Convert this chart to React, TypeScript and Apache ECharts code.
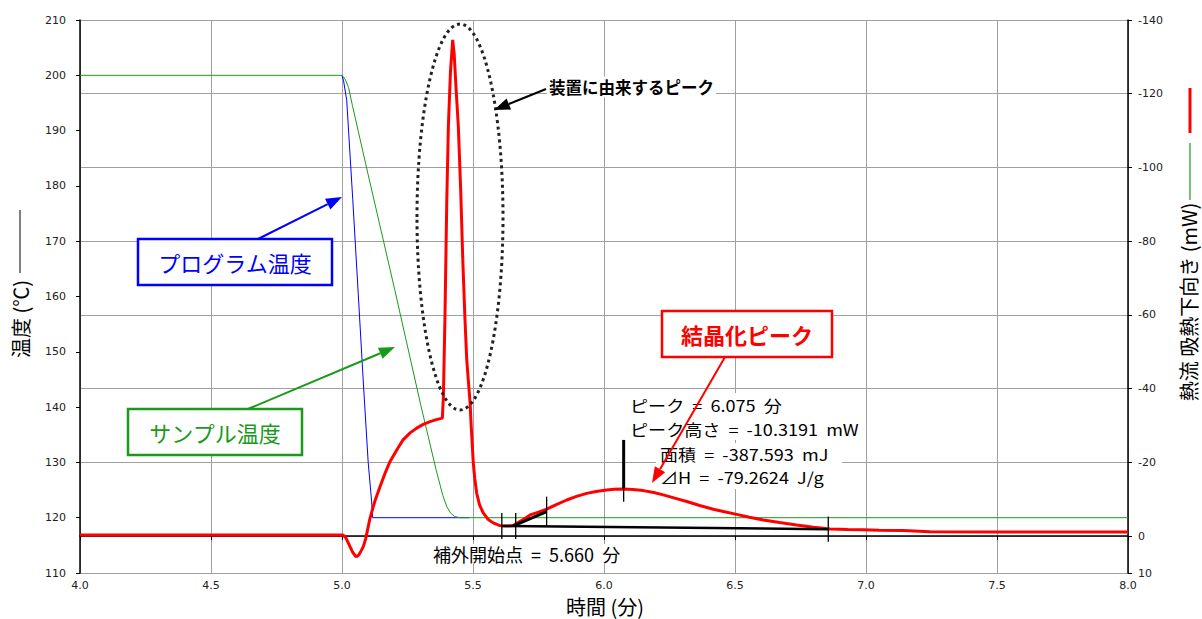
import React, { useEffect, useRef } from 'react';
import * as echarts from 'echarts';

// ---- Data ----
const programTime = [5.0, 5.006, 5.018, 5.041, 5.062, 5.082, 5.1, 5.113, 5.117, 5.485];
const programTemp = [200, 199, 195.5, 177.6, 160.5, 144, 130, 123, 120, 120];

const sampleTime = [4.0, 5.0, 5.012, 5.025, 5.04, 5.1, 5.2, 5.3, 5.36, 5.385, 5.4, 5.415, 5.43, 5.45, 8.0];
const sampleTemp = [200, 200, 199.3, 197.8, 194.5, 182, 161.5, 140.5, 128.5, 124, 122, 120.8, 120.2, 120, 120];

const flowTime = [
  4.0, 4.5, 5.0, 5.004, 5.015, 5.02, 5.031, 5.04, 5.05, 5.056, 5.065, 5.073, 5.081, 5.09, 5.1, 5.107,
  5.125, 5.145, 5.165, 5.183, 5.21, 5.233, 5.26, 5.285, 5.31, 5.336, 5.36, 5.383,
  5.387, 5.393, 5.4, 5.406, 5.414, 5.4225, 5.428, 5.435, 5.444, 5.453, 5.461, 5.469, 5.476, 5.482,
  5.489, 5.493, 5.497, 5.501, 5.507, 5.514, 5.525, 5.539, 5.557, 5.577, 5.603, 5.63, 5.653, 5.685,
  5.718, 5.75, 5.781, 5.82, 5.858, 5.895, 5.934, 5.97, 6.01, 6.04, 6.074, 6.11, 6.15, 6.19, 6.226,
  6.27, 6.316, 6.365, 6.417, 6.46, 6.506, 6.555, 6.608, 6.67, 6.735, 6.8, 6.863, 6.93, 6.99, 7.05,
  7.142, 7.244, 7.5, 7.75, 8.0,
];
const flowValue = [
  -0.3, -0.3, -0.3, -0.3, 0.5, 1.2, 2.9, 4.3, 5.3, 5.6, 5.0, 4.0, 2.9, 0.8, -2.5, -4.9,
  -9.4, -13.4, -17.2, -20.2, -23.5, -26.1, -28.0, -29.3, -30.3, -31.05, -31.6, -32.0,
  -37.8, -59.5, -91.2, -111.1, -126, -134.6, -131, -121.9, -111.1, -94, -75, -59.5, -48, -42.4,
  -36, -30, -25, -19.9, -15.5, -11.7, -8.5, -6.3, -4.6, -3.6, -2.85, -2.75, -2.9, -4.2,
  -5.75, -6.5, -7.3, -8.6, -9.8, -10.8, -11.6, -12.1, -12.5, -12.7, -12.8, -12.65, -12.35, -11.85, -11.2,
  -10.3, -9.4, -8.3, -7.3, -6.6, -5.9, -5.1, -4.4, -3.7, -3.0, -2.4, -1.95, -1.8, -1.7, -1.6,
  -1.5, -1.2, -1.15, -1.1, -1.1,
];

// analysis marks (heat-flow axis)
const baselineTime = [5.61, 6.856];
const baselineFlow = [-2.75, -1.9];
const tangentTime = [5.654, 5.781];
const tangentFlow = [-2.76, -6.64];
const markTimes = [5.61, 5.663, 5.781, 6.856];
const markLow = [0.8, 0.8, -2.56, 1.5];
const markHigh = [-6.3, -6.3, -10.7, -5.3];
const peakMarkTime = 6.075;
const peakMarkThick = [-26.1, -13.0];
const peakMarkThin = [-13.0, -9.3];

// axis ranges
const timeRange = [4.0, 8.0, 0.5];
const tempRange = [110, 210, 10];
const flowRange = [-140, 10, 20];

const FONT = '"Noto Sans CJK JP", "Noto Sans", sans-serif';

function pairs(xs: number[], ys: number[]) {
  return xs.map((x, i) => [x, ys[i]]);
}

function lineSeries(data: number[][], yAxisIndex: number, color: string, width: number, z: number) {
  return {
    type: 'line',
    data,
    yAxisIndex,
    showSymbol: false,
    symbol: 'none',
    silent: true,
    z,
    lineStyle: { color, width },
  };
}

function arrow(x1: number, y1: number, x2: number, y2: number, color: string, width = 2, L = 16, W = 6) {
  const a = Math.atan2(y2 - y1, x2 - x1);
  const bx = x2 - L * Math.cos(a);
  const by = y2 - L * Math.sin(a);
  return [
    { type: 'line', z: 110, shape: { x1, y1, x2: bx, y2: by }, style: { stroke: color, lineWidth: width } },
    {
      type: 'polygon',
      z: 110,
      shape: {
        points: [
          [x2, y2],
          [bx + W * Math.sin(a), by - W * Math.cos(a)],
          [bx - W * Math.sin(a), by + W * Math.cos(a)],
        ],
      },
      style: { fill: color },
    },
  ];
}

function label(x: number, y: number, text: string, opts: any = {}) {
  return {
    type: 'text',
    z: opts.z || 101,
    x,
    y,
    rotation: opts.rotation || 0,
    scaleX: opts.scaleX || 1,
    style: {
      text,
      fill: opts.color || '#000',
      fontSize: opts.size || 18,
      fontFamily: FONT,
      fontWeight: opts.weight || 'normal',
      align: opts.align || 'left',
      verticalAlign: 'middle',
      lineHeight: opts.lineHeight,
      backgroundColor: opts.bg,
      padding: opts.padding,
    },
  };
}

function box(x: number, y: number, w: number, h: number, color: string) {
  return {
    type: 'rect',
    z: 100,
    shape: { x, y, width: w, height: h },
    style: { fill: '#fff', stroke: color, lineWidth: 2.5 },
  };
}

export default function App() {
  const ref = useRef<HTMLDivElement>(null);
  useEffect(() => {
    if (!ref.current) return;
    const chart = echarts.init(ref.current, undefined, { renderer: 'svg' });
    const axisLabel = { color: '#222', fontSize: 11, fontFamily: '"DejaVu Sans", sans-serif' };
    const markSeries = markTimes.map((t, i) =>
      lineSeries([[t, markLow[i]], [t, markHigh[i]]], 1, '#000', 1.3, 6)
    );
    const graphic: any[] = [
      // dotted ellipse
      {
        type: 'ellipse',
        z: 99,
        shape: { cx: 460, cy: 217, rx: 43, ry: 193 },
        style: { fill: 'none', stroke: '#222', lineWidth: 3, lineDash: [3, 3.5] },
      },
      ...arrow(546, 89, 494, 110, '#000', 2),
      label(547, 87, '装置に由来するピーク', { size: 16.5, weight: 'bold', bg: '#fff', padding: [2, 2] }),
      // blue box
      ...arrow(258, 239, 342, 197, '#0000ff', 2),
      box(138, 239, 194, 46, '#0000ff'),
      label(235, 262, 'プログラム温度', { size: 22, color: '#0000ff', align: 'center' }),
      // green box
      ...arrow(248, 409, 395, 347, '#1a9a1a', 2),
      box(128, 409, 174, 46, '#1a9a1a'),
      label(215, 432, 'サンプル温度', { size: 22, color: '#1a9a1a', align: 'center' }),
      // red box
      ...arrow(725, 357, 652, 483, '#ff0000', 2),
      box(662, 311, 170, 46, '#ff0000'),
      label(747, 334, '結晶化ピーク', { size: 22, color: '#ff0000', align: 'center', weight: 'bold' }),
      // result texts (white backing)
      { type: 'rect', z: 100, shape: { x: 628, y: 393, width: 238, height: 47 }, style: { fill: '#fff' } },
      { type: 'rect', z: 100, shape: { x: 656, y: 443, width: 186, height: 46 }, style: { fill: '#fff' } },
      label(630, 417, 'ピーク  =  6.075  分\nピーク高さ  =  -10.3191  mW', {
        size: 16,
        lineHeight: 23.5,
        scaleX: 1.13,
      }),
      label(660, 465.5, '面積  =  -387.593  mJ\n⊿H  =  -79.2624  J/g', {
        size: 16,
        lineHeight: 23.5,
        scaleX: 1.13,
      }),
      label(432, 554, '補外開始点  =  5.660  分', { size: 18, bg: '#fff', padding: [1, 1] }),
      // axis titles
      label(605, 606, '時間 (分)', { size: 20, align: 'center' }),
      label(20, 319, '温度 (℃)', { size: 20, align: 'center', rotation: Math.PI / 2 }),
      { type: 'line', z: 100, shape: { x1: 20, y1: 210, x2: 20, y2: 273 }, style: { stroke: '#000', lineWidth: 1 } },
      label(1188, 302, '熱流 吸熱下向き (mW)', { size: 20, align: 'center', rotation: Math.PI / 2 }),
      { type: 'line', z: 100, shape: { x1: 1190, y1: 88, x2: 1190, y2: 133 }, style: { stroke: '#ff0000', lineWidth: 3 } },
      { type: 'line', z: 100, shape: { x1: 1190, y1: 143, x2: 1190, y2: 200 }, style: { stroke: '#1a9a1a', lineWidth: 1.2 } },
    ];

    chart.setOption({
      animation: false,
      backgroundColor: '#fff',
      grid: { left: 80, right: 74, top: 20, bottom: 46, containLabel: false },
      xAxis: {
        type: 'value',
        min: timeRange[0],
        max: timeRange[1],
        interval: timeRange[2],
        axisLine: { lineStyle: { color: '#000', width: 1.5 } },
        axisTick: { inside: false, length: 4, lineStyle: { color: '#000' } },
        axisLabel: { ...axisLabel, margin: 7, formatter: (v: number) => v.toFixed(1) },
        splitLine: { show: true, lineStyle: { color: '#a0a0a0', width: 1 } },
      },
      yAxis: [
        {
          type: 'value',
          position: 'left',
          min: tempRange[0],
          max: tempRange[1],
          interval: tempRange[2],
          axisLine: { show: true, lineStyle: { color: '#000', width: 1.5 } },
          axisTick: { show: true, inside: false, length: 4, lineStyle: { color: '#000' } },
          axisLabel: { ...axisLabel, margin: 14 },
          splitLine: { show: false },
        },
        {
          type: 'value',
          position: 'right',
          inverse: true,
          min: flowRange[0],
          max: flowRange[1],
          interval: flowRange[2],
          axisLine: { show: true, lineStyle: { color: '#000', width: 1.5 } },
          axisTick: { show: true, inside: false, length: 4, lineStyle: { color: '#000' } },
          axisLabel: { ...axisLabel, margin: 10 },
          splitLine: { show: true, lineStyle: { color: '#a0a0a0', width: 1 } },
        },
      ],
      series: [
        lineSeries(pairs(programTime, programTemp), 0, '#0000ff', 1, 2),
        lineSeries(pairs(sampleTime, sampleTemp), 0, '#1a9a1a', 1, 3),
        lineSeries(pairs(flowTime, flowValue), 1, '#ff0000', 3, 4),
        lineSeries(pairs(baselineTime, baselineFlow), 1, '#000', 2.5, 5),
        lineSeries(pairs(tangentTime, tangentFlow), 1, '#000', 3, 5),
        ...markSeries,
        lineSeries([[peakMarkTime, peakMarkThick[0]], [peakMarkTime, peakMarkThick[1]]], 1, '#000', 3, 6),
        lineSeries([[peakMarkTime, peakMarkThin[0]], [peakMarkTime, peakMarkThin[1]]], 1, '#000', 1.3, 6),
      ],
      graphic,
    });
    return () => chart.dispose();
  }, []);
  return (
    <div
      ref={ref}
      style={{ position: 'fixed', left: 0, top: 0, width: 1202, height: 619, background: '#fff' }}
    />
  );
}
